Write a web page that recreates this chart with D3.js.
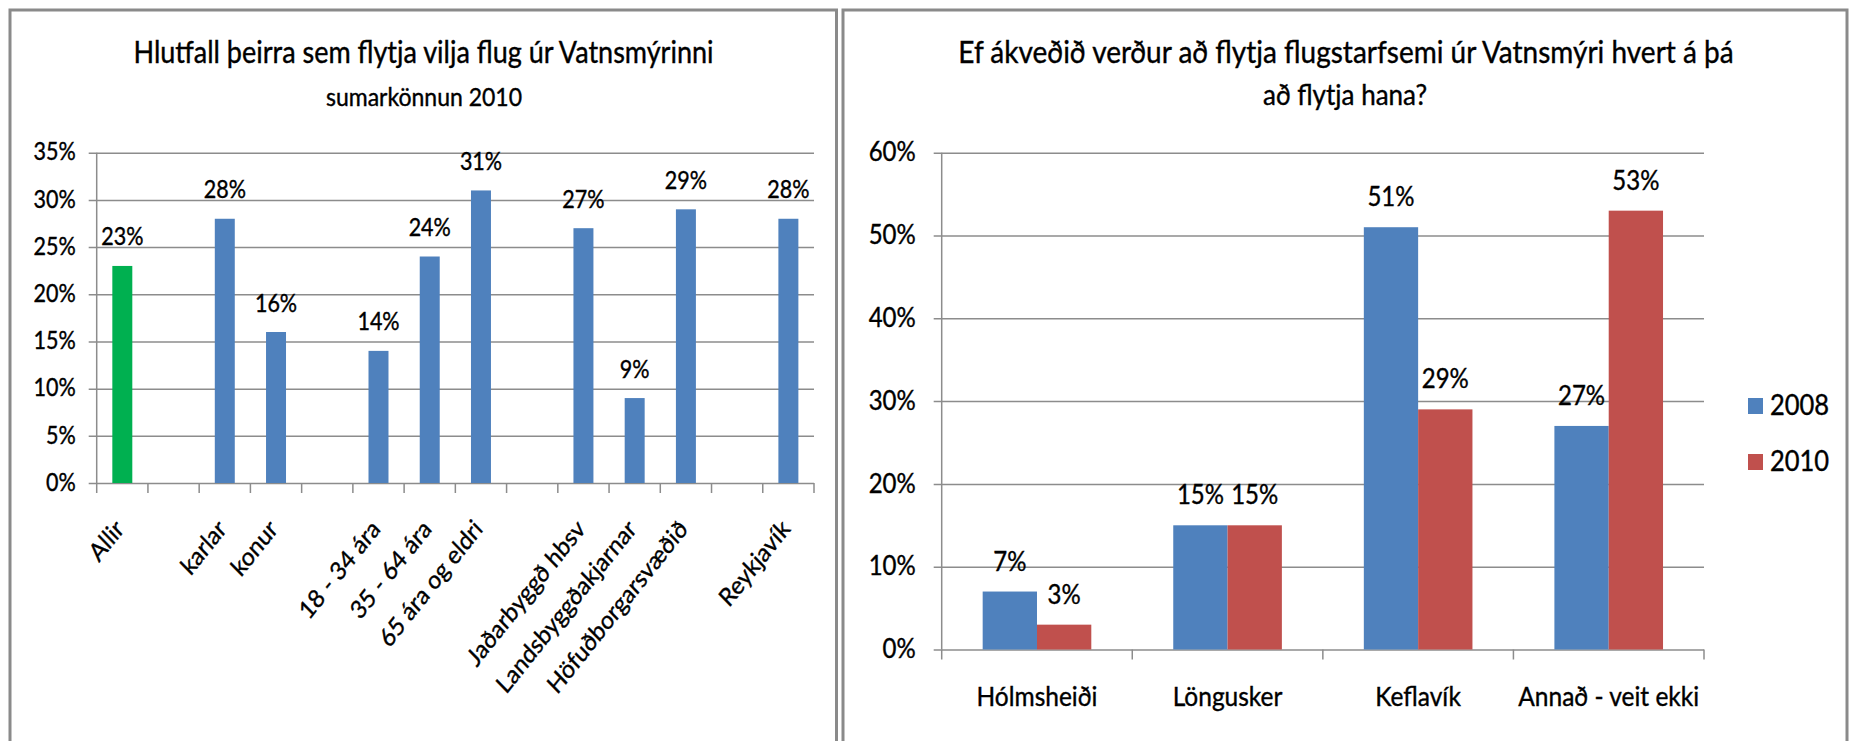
<!DOCTYPE html>
<html>
<head>
<meta charset="utf-8">
<script src="https://cdn.jsdelivr.net/npm/d3@7"></script>
<style>
  html, body { margin: 0; padding: 0; background: #fff; }
  svg { display: block; }
  text { font-family: Lato, 'Liberation Sans', sans-serif; fill: #000; stroke: #000; stroke-width: 0.35px; }
</style>
</head>
<body>
<svg id="chart" width="1853" height="741"></svg>
<script>
// left chart: share wanting to move flights out of Vatnsmýri (summer survey 2010)
const leftTitle = ['Hlutfall þeirra sem flytja vilja flug úr Vatnsmýrinni', 'sumarkönnun 2010']
const leftCats = ['Allir', '', 'karlar', 'konur', '', '18 - 34 ára', '35 - 64 ára', '65 ára og eldri',
  '', 'Jaðarbyggð hbsv', 'Landsbyggðakjarnar', 'Höfuðborgarsvæðið', '', 'Reykjavík']
const leftValues = [23, null, 28, 16, null, 14, 24, 31, null, 27, 9, 29, null, 28]
const leftTicks = [0, 5, 10, 15, 20, 25, 30, 35]

// right chart: where should flight operations go
const rightTitle = ['Ef ákveðið verður að flytja flugstarfsemi úr Vatnsmýri hvert á þá', 'að flytja hana?']
const rightCats = ['Hólmsheiði', 'Löngusker', 'Keflavík', 'Annað - veit ekki']
const rightSeries = ['2008', '2010']
const values2008 = [7, 15, 51, 27]
const values2010 = [3, 15, 29, 53]
const rightTicks = [0, 10, 20, 30, 40, 50, 60]

const BLUE = '#4f81bd', RED = '#c0504d', GREEN = '#00b050', GRID = '#8c8c8c'
const SY = 1.13 // source text looks vertically stretched
const svg = d3.select('#chart')

// text positioned via transform so it can be stretched vertically
function at(x, y, rot){ return `translate(${x},${y}) scale(1,${SY})` + (rot ? ` rotate(${rot})` : '') }

// panel frames
svg.append('rect').attr('x', 10).attr('y', 10).attr('width', 826.5).attr('height', 760)
  .attr('fill', '#fff').attr('stroke', '#8a8a8a').attr('stroke-width', 3)
svg.append('rect').attr('x', 843).attr('y', 10).attr('width', 1004).attr('height', 760)
  .attr('fill', '#fff').attr('stroke', '#8a8a8a').attr('stroke-width', 3)

function yGrid(g, y, x0, x1, ticks, pad, fs){
  const ax = d3.axisLeft(y).tickValues(ticks).tickFormat(d => d + '%')
    .tickSize(-(x1 - x0)).tickSizeOuter(0).tickPadding(pad)
  const a = g.append('g').attr('transform', `translate(${x0},0)`).call(ax)
  a.select('.domain').remove()
  a.selectAll('.tick line').attr('x1', -8).attr('stroke', GRID).attr('stroke-width', 1.5)
  a.selectAll('.tick text').attr('font-size', fs).attr('font-family', null).attr('fill', '#000')
    .attr('dy', '0.3em').attr('transform', `scale(1,${SY})`)
  // vertical axis line
  g.append('line').attr('x1', x0).attr('x2', x0).attr('y1', y.range()[1]).attr('y2', y.range()[0])
    .attr('stroke', GRID).attr('stroke-width', 1.5)
}

// ---------- left chart ----------
{
  const g = svg.append('g')
  const x = d3.scaleBand().domain(d3.range(leftCats.length)).range([96.7, 814]).padding(0)
  const y = d3.scaleLinear().domain([0, 35]).range([483, 152.7])
  yGrid(g, y, 96.7, 814, leftTicks, 21, 21.5)

  // x tick marks at band edges
  const edges = d3.range(leftCats.length + 1).map(i => 96.7 + i * x.step())
  g.selectAll('line.xt').data(edges).join('line').attr('class', 'xt')
    .attr('x1', d => d).attr('x2', d => d).attr('y1', y(0)).attr('y2', y(0) + 10)
    .attr('stroke', GRID).attr('stroke-width', 1.5)

  const bw = x.bandwidth() * 0.39
  const data = leftValues.map((v, i) => ({ i, v })).filter(d => d.v != null)
  g.selectAll('rect.bar').data(data).join('rect').attr('class', 'bar')
    .attr('x', d => x(d.i) + (x.bandwidth() - bw) / 2).attr('width', bw)
    .attr('y', d => y(d.v)).attr('height', d => y(0) - y(d.v))
    .attr('fill', d => d.i === 0 ? GREEN : BLUE)
  g.selectAll('text.lbl').data(data).join('text').attr('class', 'lbl')
    .attr('transform', d => at(x(d.i) + x.bandwidth() / 2, y(d.v) - 20.5))
    .attr('text-anchor', 'middle').attr('font-size', 21.5).text(d => d.v + '%')

  // rotated category labels
  g.selectAll('text.cat').data(leftCats.map((c, i) => ({ c, i })).filter(d => d.c)).join('text')
    .attr('class', 'cat').attr('text-anchor', 'end').attr('font-size', 22.5)
    .attr('transform', d => at(x(d.i) + x.bandwidth() / 2 + 3, 530, -48))
    .text(d => d.c)

  g.append('text').attr('transform', at(423.5, 63.3)).attr('text-anchor', 'middle')
    .attr('font-size', 27).text(leftTitle[0])
  g.append('text').attr('transform', at(424, 106)).attr('text-anchor', 'middle')
    .attr('font-size', 23).text(leftTitle[1])
}

// ---------- right chart ----------
{
  const g = svg.append('g')
  const x = d3.scaleBand().domain(rightCats).range([941.7, 1704]).padding(0)
  const y = d3.scaleLinear().domain([0, 60]).range([649.5, 152.7])
  yGrid(g, y, 941.7, 1704, rightTicks, 26, 24)

  const edges = d3.range(rightCats.length + 1).map(i => 941.7 + i * x.step())
  g.selectAll('line.xt').data(edges).join('line').attr('class', 'xt')
    .attr('x1', d => d).attr('x2', d => d).attr('y1', y(0)).attr('y2', y(0) + 10)
    .attr('stroke', GRID).attr('stroke-width', 1.5)

  const inner = d3.scaleBand().domain(rightSeries).range([0, x.bandwidth() * 0.57]).padding(0)
  const off = x.bandwidth() * (1 - 0.57) / 2
  const rows = []
  rightCats.forEach((c, i) => {
    rows.push({ c, s: '2008', v: values2008[i], col: BLUE })
    rows.push({ c, s: '2010', v: values2010[i], col: RED })
  })
  g.selectAll('rect.bar').data(rows).join('rect').attr('class', 'bar')
    .attr('x', d => x(d.c) + off + inner(d.s)).attr('width', inner.bandwidth())
    .attr('y', d => y(d.v)).attr('height', d => y(0) - y(d.v)).attr('fill', d => d.col)
  g.selectAll('text.lbl').data(rows).join('text').attr('class', 'lbl')
    .attr('transform', d => at(x(d.c) + off + inner(d.s) + inner.bandwidth() / 2, y(d.v) - 21))
    .attr('text-anchor', 'middle').attr('font-size', 24).text(d => d.v + '%')

  g.selectAll('text.cat').data(rightCats).join('text').attr('class', 'cat')
    .attr('transform', d => at(x(d) + x.bandwidth() / 2, 706)).attr('text-anchor', 'middle')
    .attr('font-size', 24.5).text(d => d)

  // legend
  const leg = g.selectAll('g.leg').data(rightSeries).join('g').attr('class', 'leg')
    .attr('transform', (d, i) => `translate(1748,${398 + i * 56})`)
  leg.append('rect').attr('width', 15).attr('height', 16).attr('fill', (d, i) => i ? RED : BLUE)
  leg.append('text').attr('transform', at(22, 17)).attr('font-size', 25.5).text(d => d)

  g.append('text').attr('transform', at(1346, 63.3)).attr('text-anchor', 'middle')
    .attr('font-size', 28).text(rightTitle[0])
  g.append('text').attr('transform', at(1345, 105)).attr('text-anchor', 'middle')
    .attr('font-size', 26).text(rightTitle[1])
}
</script>
</body>
</html>
